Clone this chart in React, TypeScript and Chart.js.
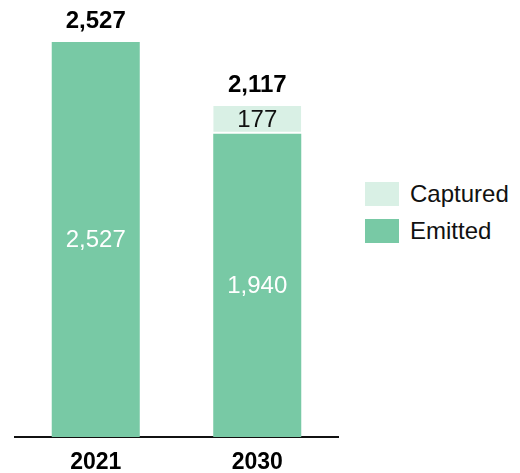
import React, { useEffect, useRef } from "react";
import { Chart, registerables } from "chart.js";

Chart.register(...registerables);

const categories = ["2021", "2030"];
const emitted = [2527, 1940];
const captured = [0, 177];
const totals = [2527, 2117];
const seriesNames = ["Emitted", "Captured"];

const EMIT_COLOR = "#78c9a5";
const CAPT_COLOR = "#d9f0e5";
const FONT = "Arial, 'Liberation Sans', sans-serif";

const fmt = (v: number) => v.toLocaleString("en-US");

const labelPlugin = {
  id: "labels",
  afterDatasetsDraw(chart: any) {
    const ctx = chart.ctx;
    ctx.save();
    ctx.textAlign = "center";
    ctx.textBaseline = "middle";
    chart.data.datasets.forEach((ds: any, di: number) => {
      const meta = chart.getDatasetMeta(di);
      meta.data.forEach((el: any, i: number) => {
        const v = ds.data[i];
        if (!v) return;
        const { x, y, base } = el.getProps(["x", "y", "base"], true);
        ctx.fillStyle = di === 0 ? "#ffffff" : "#111111";
        ctx.font = `24px ${FONT}`;
        ctx.fillText(fmt(v), x, (y + base) / 2 + 1);
      });
    });
    const yScale = chart.scales.y;
    const xScale = chart.scales.x;
    ctx.fillStyle = "#000000";
    ctx.font = `bold 24px ${FONT}`;
    totals.forEach((t, i) => {
      const x = xScale.getPixelForValue(i);
      const y = yScale.getPixelForValue(t);
      ctx.fillText(fmt(t), x, y - 21);
    });
    ctx.restore();
  },
};

export default function App() {
  const ref = useRef<HTMLCanvasElement>(null);
  useEffect(() => {
    document.documentElement.style.overflow = "hidden";
    const chart = new Chart(ref.current!, {
      type: "bar",
      data: {
        labels: categories,
        datasets: [
          {
            label: seriesNames[0],
            data: emitted,
            backgroundColor: EMIT_COLOR,
            borderWidth: 0,
            categoryPercentage: 0.545,
            barPercentage: 1,
          },
          {
            label: seriesNames[1],
            data: captured,
            backgroundColor: CAPT_COLOR,
            borderColor: "#ffffff",
            borderWidth: { bottom: 2, top: 0, left: 0, right: 0 },
            borderSkipped: false,
            categoryPercentage: 0.545,
            barPercentage: 1,
          },
        ],
      },
      options: {
        animation: false,
        responsive: false,
        maintainAspectRatio: false,
        layout: { padding: { left: 7, right: 10, top: 10, bottom: 0 } },
        plugins: { legend: { display: false }, tooltip: { enabled: false } },
        scales: {
          x: {
            stacked: true,
            grid: { display: false },
            border: { display: true, color: "#111111", width: 2 },
            ticks: {
              color: "#000000",
              font: { family: FONT, size: 23, weight: "bold" },
              padding: 4,
            },
            afterFit: (s: any) => {
              s.height = 36;
            },
          },
          y: {
            stacked: true,
            display: false,
            min: 0,
            max: 2680,
          },
        },
      },
      plugins: [labelPlugin],
    } as any);
    return () => chart.destroy();
  }, []);

  const legendItems = [
    { name: seriesNames[1], color: CAPT_COLOR },
    { name: seriesNames[0], color: EMIT_COLOR },
  ];

  return (
    <div style={{ position: "relative", width: 504, height: 465 }}>
      <canvas ref={ref} width={340} height={465} style={{ position: "absolute", left: 0, top: 0 }} />
      <div style={{ position: "absolute", left: 357, top: 174, fontFamily: FONT }}>
        {legendItems.map((it) => (
          <div key={it.name} style={{ display: "flex", alignItems: "center", height: 24, marginBottom: 13 }}>
            <div style={{ width: 34, height: 24, background: it.color }} />
            <span style={{ marginLeft: 11, fontSize: 24, color: "#111", whiteSpace: "nowrap" }}>{it.name}</span>
          </div>
        ))}
      </div>
    </div>
  );
}
